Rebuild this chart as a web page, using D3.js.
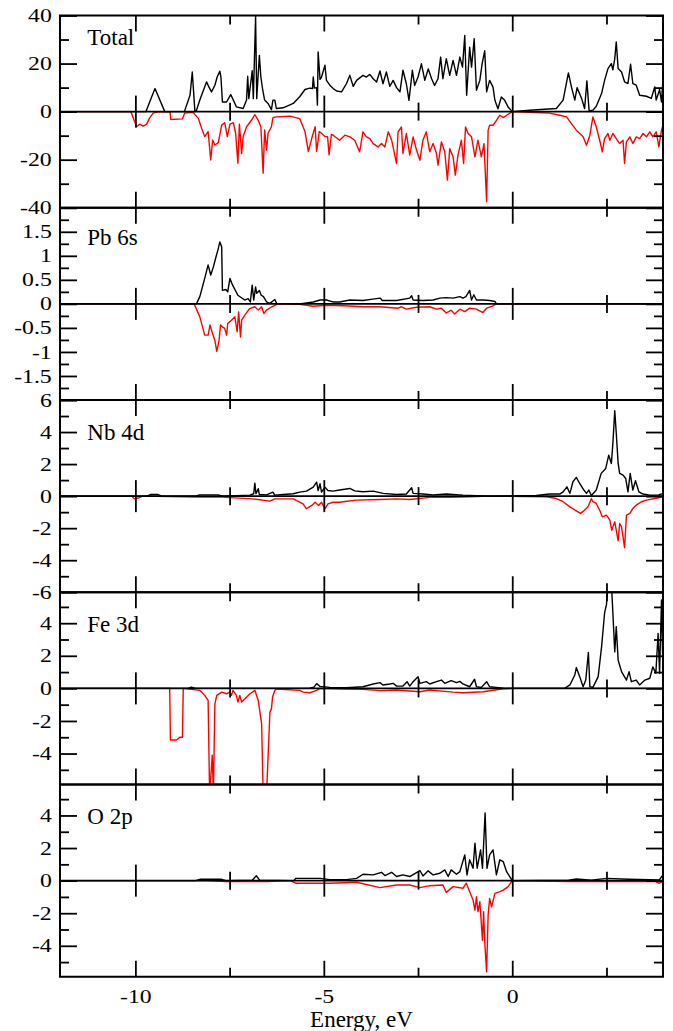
<!DOCTYPE html>
<html>
<head>
<meta charset="utf-8">
<script src="https://cdn.jsdelivr.net/npm/d3@7"></script>
<style>
  html, body { margin: 0; padding: 0; background: #fff; }
  svg { display: block; }
  svg text { font-family: "Liberation Serif", "Times New Roman", Times, serif; }
</style>
</head>
<body>
<div id="chart-container"></div>
<script>
// ---- data: [energy eV, DOS] ----
const panelNames = ["Total", "Pb 6s", "Nb 4d", "Fe 3d", "O 2p"];

const totalUp = [[-12,0],[-9.72,0],[-9.67,2],[-9.48,9.6],[-9.22,0],[-8.7,0],[-8.55,6.8],[-8.49,16.5],[-8.42,0],[-8.38,0.5],[-8.29,4.8],[-8.11,12.4],[-8.06,10.6],[-7.98,8.2],[-7.89,11],[-7.83,14.4],[-7.76,16.8],[-7.73,14.4],[-7.69,4],[-7.58,4],[-7.47,7.1],[-7.4,4.8],[-7.32,2],[-7.14,1.3],[-7.05,4.8],[-7.02,14.7],[-6.99,5.4],[-6.9,17],[-6.87,5.4],[-6.81,39.6],[-6.78,5.4],[-6.71,23.4],[-6.67,14.4],[-6.62,8.9],[-6.57,4.8],[-6.48,3.4],[-6.39,0.8],[-6.35,4.8],[-6.3,4.8],[-6.26,1.3],[-6.08,1.6],[-5.81,3.4],[-5.64,6.2],[-5.5,9.2],[-5.37,9.8],[-5.3,9.6],[-5.28,14.4],[-5.25,9.8],[-5.19,10],[-5.17,2.7],[-5.15,24.8],[-5.1,13.4],[-5.06,14.4],[-4.97,19.3],[-4.93,13],[-4.84,11],[-4.75,9.6],[-4.66,8.6],[-4.53,8.2],[-4.4,11.6],[-4.31,15.1],[-4.22,10.5],[-4.13,13],[-3.96,15.1],[-3.87,14.4],[-3.78,15.5],[-3.69,13.7],[-3.6,12.3],[-3.51,16.9],[-3.43,11.6],[-3.34,16.5],[-3.25,10.5],[-3.16,13],[-3.07,10],[-2.98,8.2],[-2.9,17.2],[-2.81,11.6],[-2.74,4.7],[-2.65,17.2],[-2.59,10.9],[-2.5,14.4],[-2.41,19.9],[-2.32,13],[-2.23,17.8],[-2.14,13.7],[-2.06,10.9],[-1.97,13.7],[-1.9,22.7],[-1.84,13.7],[-1.75,22],[-1.66,15.1],[-1.57,21.3],[-1.48,15.1],[-1.39,22.7],[-1.32,18.5],[-1.26,31.7],[-1.21,6.8],[-1.13,26.8],[-1.08,18.5],[-1.01,30.3],[-0.95,8.9],[-0.86,13],[-0.8,19.9],[-0.73,25.4],[-0.68,8.2],[-0.6,13],[-0.51,10.2],[-0.46,4.7],[-0.38,1.2],[-0.29,6.1],[-0.2,4.7],[-0.11,1.9],[0,0],[0.46,0.6],[1.17,1.3],[1.35,4.8],[1.49,16.1],[1.57,10.3],[1.66,4.8],[1.72,10],[1.84,5.5],[1.92,1.3],[1.98,12.8],[2.04,0.3],[2.14,0.6],[2.23,2.2],[2.37,7.5],[2.45,13],[2.54,17.9],[2.63,20],[2.67,17.4],[2.72,22],[2.76,29],[2.81,17.9],[2.9,16.5],[2.98,12.4],[3.07,11.7],[3.14,19.7],[3.2,11.7],[3.29,11],[3.38,6.8],[3.56,6.4],[3.69,5.5],[3.78,10.3],[3.82,4.8],[3.91,9.2],[3.96,4],[4,13.8]];
const totalDown = [[-12,0],[-10.12,0],[-10.0,-4.9],[-9.97,-6.3],[-9.88,-5.2],[-9.79,-6],[-9.7,-5.2],[-9.63,-2.8],[-9.53,-0.6],[-9.4,-0.1],[-9.08,-0.1],[-9.06,-3.3],[-8.75,-3.0],[-8.69,-0.6],[-8.47,-0.3],[-8.33,-2.8],[-8.24,-7],[-8.16,-10.4],[-8.07,-8.3],[-8.0,-20.1],[-7.95,-11.8],[-7.89,-13.9],[-7.8,-12.9],[-7.76,-9.7],[-7.71,-5.6],[-7.63,-4.6],[-7.56,-10.4],[-7.49,-5.2],[-7.4,-4.6],[-7.34,-9],[-7.28,-21.5],[-7.24,-5.2],[-7.18,-17.4],[-7.14,-10.4],[-7.05,-6.3],[-6.92,-3.6],[-6.83,-1.2],[-6.74,-3.6],[-6.67,-6.3],[-6.61,-25.6],[-6.57,-7.6],[-6.52,-16],[-6.48,-9],[-6.39,-6.3],[-6.35,-2.5],[-6.26,-2.2],[-5.9,-1.9],[-5.64,-2.9],[-5.5,-8.3],[-5.41,-16.6],[-5.32,-11.1],[-5.23,-6.3],[-5.19,-16.6],[-5.12,-8.3],[-5.06,-9],[-4.97,-10.4],[-4.9,-10.4],[-4.86,-18],[-4.8,-9.5],[-4.75,-9.8],[-4.58,-11.9],[-4.44,-9.8],[-4.31,-10.5],[-4.18,-11.9],[-4.05,-16.7],[-3.96,-8.4],[-3.87,-10.5],[-3.78,-11.2],[-3.69,-13.3],[-3.56,-14.7],[-3.47,-13.3],[-3.38,-14.7],[-3.29,-8.4],[-3.2,-11.9],[-3.07,-21.6],[-3.03,-8.4],[-2.94,-6.4],[-2.9,-17.4],[-2.81,-9.1],[-2.72,-18.1],[-2.63,-10.5],[-2.54,-16],[-2.45,-20.2],[-2.37,-11.9],[-2.28,-8.4],[-2.19,-16.7],[-2.1,-13.3],[-2.01,-17.4],[-1.97,-22.3],[-1.88,-12.6],[-1.79,-16.7],[-1.72,-28.5],[-1.66,-15.4],[-1.57,-18.8],[-1.51,-26.4],[-1.44,-18.1],[-1.35,-11.9],[-1.29,-21.6],[-1.24,-6.4],[-1.17,-9.1],[-1.08,-10.5],[-0.99,-18.8],[-0.91,-11.9],[-0.82,-18.8],[-0.75,-13.3],[-0.68,-37.5],[-0.64,-7.7],[-0.6,-5.7],[-0.51,-5.7],[-0.42,-3.6],[-0.33,-1.5],[-0.24,-2.5],[-0.15,-1.5],[0,0],[0.46,-0.3],[0.99,-0.6],[1.26,-1.5],[1.44,-2.2],[1.57,-5],[1.7,-7.7],[1.88,-10.5],[1.97,-14],[2.06,-9.8],[2.14,-2.2],[2.23,-6.4],[2.32,-11.9],[2.39,-16.7],[2.45,-11.2],[2.54,-9.1],[2.59,-11.9],[2.67,-9.1],[2.76,-11.2],[2.85,-13.3],[2.94,-11.9],[2.98,-21.6],[3.03,-12.6],[3.12,-10.5],[3.2,-13.3],[3.29,-10.5],[3.38,-11.2],[3.47,-9.1],[3.56,-10.5],[3.65,-8.4],[3.73,-10.5],[3.82,-8.4],[3.89,-14.7],[3.96,-7.7],[4,-5.7]];

const pbUp = [[-12,0],[-8.38,0],[-8.29,0.15],[-8.16,0.53],[-8.07,0.81],[-8.0,0.6],[-7.93,0.77],[-7.86,0.98],[-7.8,1.15],[-7.76,1.29],[-7.71,1.19],[-7.69,0.28],[-7.6,0.3],[-7.55,0.25],[-7.49,0.53],[-7.42,0.39],[-7.28,0.18],[-7.1,0.08],[-7.01,0.11],[-6.95,0.04],[-6.9,0.39],[-6.86,0.08],[-6.81,0.35],[-6.78,0.22],[-6.71,0.28],[-6.66,0.18],[-6.6,0.15],[-6.52,0.04],[-6.43,0.01],[-6.3,0.09],[-6.25,0.01],[-5.64,0],[-5.28,0.04],[-5.1,0.08],[-4.93,0.08],[-4.76,0.04],[-4.58,0.04],[-4.31,0.08],[-3.96,0.07],[-3.7,0.1],[-3.5,0.12],[-3.45,0.07],[-3.07,0.07],[-2.72,0.12],[-2.67,0.17],[-2.63,0.08],[-2.37,0.07],[-2.1,0.08],[-1.92,0.12],[-1.75,0.13],[-1.57,0.12],[-1.39,0.15],[-1.31,0.12],[-1.23,0.15],[-1.13,0.28],[-1.08,0.08],[-1.02,0.19],[-0.95,0.08],[-0.77,0.08],[-0.6,0.07],[-0.46,0.05],[-0.42,0],[4,0]];
const pbDown = [[-12,0],[-8.44,0],[-8.29,-0.27],[-8.16,-0.65],[-8.07,-0.65],[-8.02,-0.44],[-7.95,-0.62],[-7.89,-0.76],[-7.84,-0.99],[-7.78,-0.76],[-7.74,-0.44],[-7.69,-0.48],[-7.63,-0.51],[-7.58,-0.65],[-7.55,-0.41],[-7.45,-0.34],[-7.36,-0.27],[-7.3,-0.58],[-7.26,-0.17],[-7.21,-0.69],[-7.18,-0.34],[-7.1,-0.24],[-6.97,-0.1],[-6.83,-0.06],[-6.74,-0.13],[-6.65,-0.06],[-6.59,-0.2],[-6.52,-0.13],[-6.38,-0.06],[-6.3,-0.03],[-6.21,0],[-5.64,-0.01],[-5.28,-0.05],[-4.93,-0.03],[-4.49,-0.04],[-3.96,-0.06],[-3.51,-0.06],[-3.03,-0.09],[-2.94,-0.06],[-2.81,-0.11],[-2.54,-0.07],[-2.19,-0.06],[-2.01,-0.11],[-1.88,-0.09],[-1.75,-0.19],[-1.62,-0.13],[-1.53,-0.21],[-1.39,-0.11],[-1.26,-0.16],[-1.13,-0.09],[-0.95,-0.11],[-0.78,-0.18],[-0.68,-0.09],[-0.51,-0.04],[-0.42,0],[4,0]];

const nbUp = [[-12,0],[-9.7,0],[-9.6,0.1],[-9.4,0.1],[-9.3,0],[-8.4,0],[-8.3,0.08],[-7.8,0.08],[-7.7,0],[-6.96,0.06],[-6.86,0.15],[-6.83,0.81],[-6.8,0.15],[-6.74,0.46],[-6.71,0.1],[-6.52,0.08],[-6.35,0.25],[-6.3,0.06],[-6.08,0.1],[-5.81,0.15],[-5.64,0.25],[-5.46,0.31],[-5.28,0.56],[-5.19,0.88],[-5.15,0.35],[-5.1,0.77],[-5.06,0.25],[-4.97,0.56],[-4.89,0.35],[-4.76,0.31],[-4.58,0.38],[-4.31,0.48],[-4.18,0.33],[-3.96,0.27],[-3.69,0.31],[-3.43,0.17],[-3.07,0.1],[-2.81,0.13],[-2.67,0.52],[-2.63,0.17],[-2.37,0.13],[-2.1,0.08],[-1.75,0.13],[-1.31,0.06],[-0.6,0],[0.64,0.04],[0.99,0.13],[1.26,0.13],[1.35,0.27],[1.45,0.58],[1.53,0.17],[1.61,0.9],[1.7,1.17],[1.79,0.79],[1.9,0.38],[1.97,0.17],[2.03,0.38],[2.1,0.04],[2.23,0.38],[2.36,1.42],[2.48,1.73],[2.56,2.56],[2.63,2.04],[2.67,3.29],[2.72,5.33],[2.76,3.92],[2.81,2.04],[2.85,1.42],[2.94,1.31],[3.01,1.1],[3.07,0.27],[3.13,1.42],[3.2,0.38],[3.27,0.96],[3.36,0.27],[3.47,0.13],[3.65,0.06],[3.88,0.08],[4,0.17]];
const nbDown = [[-12,0],[-10.1,0],[-10.03,-0.17],[-9.9,-0.1],[-9.8,0],[-8.4,-0.06],[-7.7,-0.06],[-6.9,-0.17],[-6.43,-0.31],[-6.3,-0.17],[-5.81,-0.17],[-5.55,-0.48],[-5.46,-0.79],[-5.32,-0.58],[-5.23,-0.38],[-5.14,-0.58],[-5.06,-0.38],[-4.97,-0.79],[-4.89,-0.48],[-4.76,-0.38],[-4.58,-0.38],[-4.49,-0.35],[-4.14,-0.25],[-3.51,-0.21],[-3.07,-0.17],[-2.72,-0.21],[-2.19,-0.08],[-1.66,-0.08],[-1.13,-0.04],[-0.6,0],[0.91,-0.04],[1.17,-0.15],[1.35,-0.35],[1.53,-0.67],[1.7,-0.92],[1.81,-1.08],[1.9,-0.92],[2.01,-0.67],[2.1,-0.15],[2.14,-0.35],[2.23,-0.46],[2.32,-0.88],[2.39,-1.29],[2.5,-1.19],[2.59,-1.5],[2.64,-2.13],[2.72,-1.6],[2.81,-2.79],[2.85,-1.71],[2.9,-1.92],[2.98,-3.21],[3.03,-1.19],[3.12,-1.08],[3.2,-0.77],[3.29,-0.56],[3.43,-0.35],[3.56,-0.25],[3.78,-0.15],[4,-0.04]];

const feUp = [[-12,0],[-8.6,0],[-8.51,0.08],[-8.4,0],[-5.4,0],[-5.26,0.08],[-5.19,0.29],[-5.1,0.12],[-4.84,0.06],[-4.4,0.04],[-3.96,0.1],[-3.69,0.27],[-3.51,0.35],[-3.43,0.21],[-3.25,0.27],[-3.16,0.31],[-3.07,0.14],[-2.9,0.14],[-2.79,0.41],[-2.72,0.14],[-2.63,0.41],[-2.5,0.72],[-2.45,0.31],[-2.28,0.41],[-2.19,0.27],[-2.01,0.41],[-1.88,0.51],[-1.79,0.31],[-1.62,0.47],[-1.48,0.35],[-1.39,0.43],[-1.31,0.27],[-1.13,0.1],[-1.0,0.56],[-0.95,0.1],[-0.82,0.06],[-0.68,0.41],[-0.6,0.1],[-0.42,0.06],[-0.2,0],[1.39,0],[1.53,0.21],[1.66,0.82],[1.7,1.28],[1.79,0.72],[1.88,0.1],[1.95,0.51],[2.02,2.2],[2.06,0.1],[2.14,0.06],[2.28,0.72],[2.37,2.55],[2.45,4.63],[2.5,5.14],[2.54,6.5],[2.63,6.5],[2.67,4.63],[2.72,2.24],[2.76,3.79],[2.81,1.73],[2.9,1.03],[3.03,0.51],[3.1,1.03],[3.16,0.41],[3.29,0.51],[3.38,0.21],[3.52,0.51],[3.65,0.62],[3.73,1.32],[3.81,0.93],[3.87,3.37],[3.91,0.93],[3.96,5.43],[4,0.93]];
const feDown = [[-12,0],[-9.09,0],[-9.07,-3.17],[-8.91,-3.17],[-8.82,-3.0],[-8.75,-3.0],[-8.73,0],[-8.29,-0.12],[-8.16,-0.43],[-8.07,-0.74],[-8.03,-6.5],[-7.96,-4.1],[-7.93,-6.5],[-7.89,-0.95],[-7.84,-0.43],[-7.71,-0.23],[-7.58,-0.33],[-7.49,-0.23],[-7.45,-0.43],[-7.41,-0.12],[-7.32,-0.43],[-7.28,-0.84],[-7.23,-0.43],[-7.18,-0.84],[-7.09,-0.64],[-6.96,-0.33],[-6.83,-0.12],[-6.74,-0.74],[-6.65,-2.18],[-6.61,-6.5],[-6.52,-6.5],[-6.48,-4.24],[-6.43,-1.46],[-6.39,-1.26],[-6.36,-0.53],[-6.3,-0.12],[-6.26,-0.04],[-5.64,-0.12],[-5.55,-0.23],[-5.37,-0.27],[-5.19,-0.12],[-5.1,0],[-4.4,-0.04],[-3.96,-0.06],[-3.51,-0.14],[-3.07,-0.1],[-2.45,-0.21],[-2.19,-0.1],[-1.57,-0.23],[-1.31,-0.27],[-0.77,-0.21],[-0.24,-0.02],[0,0],[4,0]];

const oUp = [[-12,0],[-8.4,0],[-8.29,0.08],[-7.71,0.08],[-7.6,0],[-6.9,0.02],[-6.79,0.3],[-6.7,0.02],[-5.8,0],[-5.74,0.14],[-5.1,0.14],[-4.84,0.06],[-4.4,0.06],[-4.13,0.14],[-3.96,0.39],[-3.69,0.35],[-3.47,0.51],[-3.38,0.31],[-3.2,0.51],[-3.07,0.25],[-2.9,0.35],[-2.72,0.25],[-2.45,0.62],[-2.37,0.29],[-2.23,0.6],[-2.1,0.35],[-1.92,0.45],[-1.79,0.66],[-1.7,0.25],[-1.62,0.66],[-1.48,0.39],[-1.39,0.55],[-1.26,1.58],[-1.2,0.35],[-1.13,1.28],[-1.04,0.76],[-0.99,2.3],[-0.93,0.76],[-0.84,1.89],[-0.79,0.76],[-0.72,4.16],[-0.67,0.76],[-0.6,1.58],[-0.51,1.89],[-0.42,0.35],[-0.33,1.28],[-0.24,1.17],[-0.15,0.55],[0,0],[1.5,0.02],[1.7,0.1],[2.1,0.03],[2.5,0.14],[3.1,0.08],[3.9,0.04],[4,0.35]];
const oDown = [[-12,0],[-8.1,0],[-7.6,-0.05],[-6.5,-0.05],[-5.9,0],[-5.74,-0.16],[-5.1,-0.16],[-4.84,-0.16],[-4.13,-0.1],[-3.51,-0.43],[-3.07,-0.27],[-2.72,-0.27],[-2.45,-0.43],[-2.19,-0.31],[-1.84,-0.27],[-1.75,-0.72],[-1.57,-0.37],[-1.31,-0.47],[-1.22,-0.16],[-1.04,-1.19],[-0.99,-1.81],[-0.95,-0.99],[-0.91,-1.91],[-0.86,-1.3],[-0.79,-3.66],[-0.76,-1.91],[-0.73,-3.77],[-0.68,-5.6],[-0.64,-2.12],[-0.6,-1.09],[-0.55,-1.61],[-0.46,-0.78],[-0.33,-0.68],[-0.24,-0.58],[-0.11,-0.37],[0,0],[1.5,-0.06],[3.8,-0.06],[3.89,-0.16],[4,-0.06]];

// axes values
const xDomain = [-12, 4];
const xMajor = [-10, -5, 0];
const xMinor = [-7.5, -2.5, 2.5];
const yDomains = [[-40, 40], [-2, 2], [-6, 6], [-5.9, 5.9], [-5.9, 5.9]];
const yMajor = [
  [-40, -20, 0, 20, 40],
  [-2, -1.5, -1, -0.5, 0, 0.5, 1, 1.5, 2],
  [-6, -4, -2, 0, 2, 4, 6],
  [-4, -2, 0, 2, 4],
  [-4, -2, 0, 2, 4],
];
const yMinor = [
  [-30, -10, 10, 30],
  [-1.75, -1.25, -0.75, -0.25, 0.25, 0.75, 1.25, 1.75],
  [-5, -3, -1, 1, 3, 5],
  [-5, -3, -1, 1, 3, 5],
  [-5, -3, -1, 1, 3, 5],
];
const yLabels = [
  [-40, -20, 0, 20, 40],
  [-1.5, -1, -0.5, 0, 0.5, 1, 1.5],
  [-6, -4, -2, 0, 2, 4, 6],
  [-4, -2, 0, 2, 4],
  [-4, -2, 0, 2, 4],
];
const upSeries = [totalUp, pbUp, nbUp, feUp, oUp];
const downSeries = [totalDown, pbDown, nbDown, feDown, oDown];

// ---- layout ----
const W = 673, H = 1031;
const margin = { left: 60, right: 10, top: 15.5 };
const panelH = 192.25;
const labelBaseline = [29.5, 37.25, 40, 39.4, 39.8];
const majorLen = 16, minorLen = 9;
const fontFamily = '"Liberation Serif", "Times New Roman", Times, serif';

const svg = d3
  .select("#chart-container")
  .append("svg")
  .attr("width", W)
  .attr("height", H);
const defs = svg.append("defs");

const x = d3.scaleLinear().domain(xDomain).range([margin.left, W - margin.right]);

panelNames.forEach((name, i) => drawPanel(i));
renderXLabels();

function drawPanel(i) {
  const top = margin.top + i * panelH;
  const bottom = top + panelH;
  const y = d3.scaleLinear().domain(yDomains[i]).range([bottom, top]);
  const g = svg.append("g").attr("class", "panel");

  // clip the curves to the panel
  defs
    .append("clipPath")
    .attr("id", "clip-" + i)
    .append("rect")
    .attr("x", x.range()[0])
    .attr("y", top)
    .attr("width", x.range()[1] - x.range()[0])
    .attr("height", panelH);

  const line = d3
    .line()
    .x((d) => x(d[0]))
    .y((d) => y(d[1]));

  const curves = g.append("g").attr("clip-path", `url(#clip-${i})`);
  curves
    .append("path")
    .datum(downSeries[i])
    .attr("d", line)
    .attr("fill", "none")
    .attr("stroke", "#ff0000")
    .attr("stroke-width", 1.4)
    .attr("stroke-linejoin", "round");
  curves
    .append("path")
    .datum(upSeries[i])
    .attr("d", line)
    .attr("fill", "none")
    .attr("stroke", "#000")
    .attr("stroke-width", 1.4)
    .attr("stroke-linejoin", "round");

  // zero line with ticks both ways
  const y0 = y(0);
  g.append("line")
    .attr("x1", x.range()[0])
    .attr("x2", x.range()[1])
    .attr("y1", y0)
    .attr("y2", y0)
    .attr("stroke", "#000")
    .attr("stroke-width", 1.8);
  xTicks(g, y0, d3.axisBottom, xMajor, majorLen);
  xTicks(g, y0, d3.axisTop, xMajor, majorLen);
  xTicks(g, y0, d3.axisBottom, xMinor, minorLen);
  xTicks(g, y0, d3.axisTop, xMinor, minorLen);

  // top and bottom ticks, pointing in
  xTicks(g, top, d3.axisBottom, xMajor, majorLen);
  xTicks(g, top, d3.axisBottom, xMinor, minorLen);
  xTicks(g, bottom, d3.axisTop, xMajor, majorLen);
  xTicks(g, bottom, d3.axisTop, xMinor, minorLen);

  // left and right ticks
  yTicks(g, x.range()[0], d3.axisRight, y, yMajor[i], 17);
  yTicks(g, x.range()[0], d3.axisRight, y, yMinor[i], minorLen);
  yTicks(g, x.range()[1], d3.axisLeft, y, yMajor[i], 17);
  yTicks(g, x.range()[1], d3.axisLeft, y, yMinor[i], minorLen);

  // frame
  g.append("rect")
    .attr("x", x.range()[0])
    .attr("y", top)
    .attr("width", x.range()[1] - x.range()[0])
    .attr("height", panelH)
    .attr("fill", "none")
    .attr("stroke", "#000")
    .attr("stroke-width", 2);

  // tick labels
  g.append("g")
    .attr("transform", `translate(${x.range()[0]},0)`)
    .call(
      d3
        .axisLeft(y)
        .tickValues(yLabels[i])
        .tickSize(0)
        .tickPadding(6.6)
        .tickFormat((d) => String(d))
    )
    .call((a) => a.select(".domain").remove())
    .call(styleTickText);

  // panel label
  g.append("text")
    .attr("x", 87.3)
    .attr("y", top + labelBaseline[i])
    .style("font-family", fontFamily)
    .style("font-size", "23px")
    .attr("fill", "#000")
    .text(panelNames[i]);
}

function xTicks(g, ypos, axisFn, values, size) {
  g.append("g")
    .attr("transform", `translate(0,${ypos})`)
    .call(axisFn(x).tickValues(values).tickSize(size).tickFormat(""))
    .call((a) => a.select(".domain").remove())
    .call((a) => a.selectAll("line").attr("stroke", "#000").attr("stroke-width", 1.8));
}

function yTicks(g, xpos, axisFn, y, values, size) {
  g.append("g")
    .attr("transform", `translate(${xpos},0)`)
    .call(axisFn(y).tickValues(values).tickSize(size).tickFormat(""))
    .call((a) => a.select(".domain").remove())
    .call((a) => a.selectAll("line").attr("stroke", "#000").attr("stroke-width", 1.8));
}

// tick digits in the original are wide and short: scale them horizontally
function styleTickText(a) {
  a.attr("font-family", null).attr("font-size", null);
  a.selectAll("text")
    .style("font-family", fontFamily)
    .style("font-size", "19px")
    .attr("fill", "#000")
    .attr("transform", "scale(1.25,1)");
}

function renderXLabels() {
  const bottom = margin.top + panelNames.length * panelH;
  svg
    .append("g")
    .attr("transform", `translate(0,${bottom})`)
    .call(
      d3
        .axisBottom(x)
        .tickValues(xMajor)
        .tickSize(0)
        .tickPadding(12.5)
        .tickFormat((d) => String(d))
    )
    .call((a) => a.select(".domain").remove())
    .call(styleTickText);

  svg
    .append("text")
    .attr("x", (x.range()[0] + x.range()[1]) / 2)
    .attr("y", 1026.7)
    .attr("text-anchor", "middle")
    .style("font-family", fontFamily)
    .style("font-size", "23px")
    .attr("fill", "#000")
    .text("Energy, eV");
}
</script>
</body>
</html>
